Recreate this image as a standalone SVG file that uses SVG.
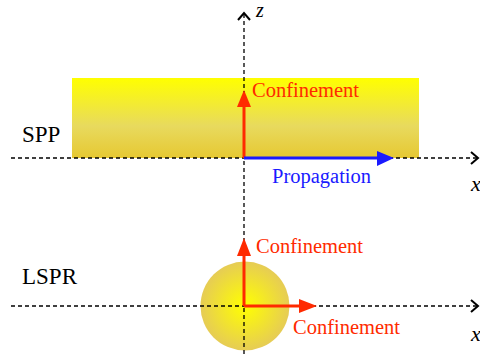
<svg xmlns="http://www.w3.org/2000/svg" width="480" height="360" viewBox="0 0 480 360">
<defs>
<linearGradient id="slab" x1="0" y1="0" x2="0" y2="1">
<stop offset="0" stop-color="#ffff00"/>
<stop offset="0.6" stop-color="#e8da5e"/>
<stop offset="1" stop-color="#e6c832"/>
</linearGradient>
<radialGradient id="ball" cx="0.5" cy="0.5" r="0.5">
<stop offset="0" stop-color="#ffff00"/>
<stop offset="1" stop-color="#e6cc55"/>
</radialGradient>
<style>
.axis{stroke:#000;stroke-width:1.3;stroke-dasharray:4 3;fill:none}
.chev{stroke:#000;stroke-width:2;fill:none}
text{font-family:'Liberation Serif','DejaVu Serif',serif}
.red{fill:#ff2a00}
.redl{stroke:#ff2a00;stroke-width:3}
.blue{fill:#1a1aff}
.bluel{stroke:#1a1aff;stroke-width:3}
</style>
</defs>
<g id="spp-slab">
<rect x="72" y="78" width="347" height="80" fill="url(#slab)"/>
</g>
<g id="lspr-particle">
<circle cx="245" cy="306" r="44.5" fill="url(#ball)"/>
</g>
<g id="axes">
<line class="axis" x1="244" y1="14" x2="244" y2="356"/>
<polyline class="chev" points="238,20 244,13 250,20"/>
<line class="axis" x1="11" y1="158" x2="477" y2="158"/>
<polyline class="chev" points="471,152 478,158 471,164"/>
<line class="axis" x1="11" y1="306" x2="477" y2="306"/>
<polyline class="chev" points="471,300 478,306 471,312"/>
</g>
<g id="connectors">
<line class="redl" x1="244" y1="158" x2="244" y2="104"/>
<polygon class="red" points="244,90 237,107 251,107"/>
<line class="bluel" x1="244" y1="158" x2="380" y2="158"/>
<polygon class="blue" points="394,158 377,151 377,166"/>
<line class="redl" x1="244" y1="306" x2="244" y2="252"/>
<polygon class="red" points="244,238 237,256 251,256"/>
<line class="redl" x1="244" y1="306" x2="302" y2="306"/>
<polygon class="red" points="317,306 299,299 299,313"/>
</g>
<g id="labels">
<text x="256" y="17" font-family="Liberation Serif, serif" font-size="20" font-style="italic">z</text>
<text x="471" y="191" font-family="Liberation Serif, serif" font-size="22" font-style="italic">x</text>
<text x="471" y="341" font-family="Liberation Serif, serif" font-size="22" font-style="italic">x</text>
<text x="22" y="142" font-family="Liberation Serif, serif" font-size="23">SPP</text>
<text x="22" y="284" font-family="Liberation Serif, serif" font-size="23">LSPR</text>
<text x="252" y="97" font-family="Liberation Serif, serif" font-size="20.5" fill="#ff2a00">Confinement</text>
<text x="272" y="183" font-family="Liberation Serif, serif" font-size="20.5" fill="#1a1aff">Propagation</text>
<text x="256" y="253" font-family="Liberation Serif, serif" font-size="20.5" fill="#ff2a00">Confinement</text>
<text x="293" y="334" font-family="Liberation Serif, serif" font-size="20.5" fill="#ff2a00">Confinement</text>
</g>
</svg>
